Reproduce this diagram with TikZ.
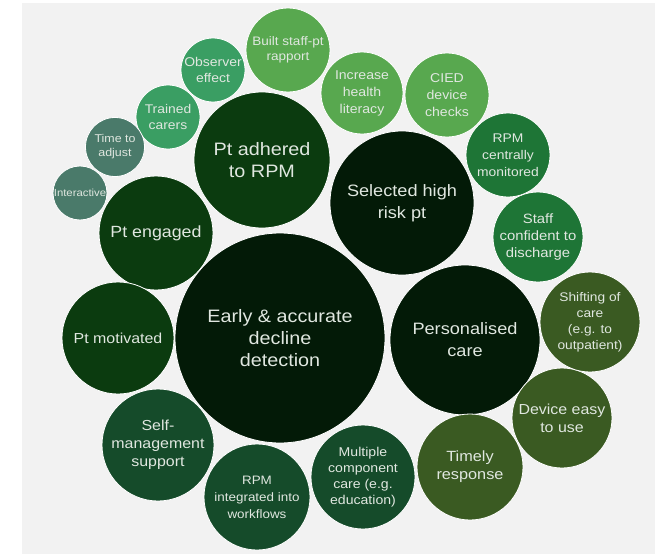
\documentclass[tikz,border=0pt]{standalone}
\usepackage{fontspec}
\setmainfont[FakeStretch=1.1]{Liberation Sans}
\usepackage{xcolor}
\usepackage{tikz}

\definecolor{panelgray}{HTML}{F2F2F2}
\definecolor{labelgray}{HTML}{E0E7E0}
\definecolor{blackgreen}{HTML}{031A07}
\definecolor{darkgreen}{HTML}{0B3B0F}
\definecolor{deepgreen}{HTML}{154B2A}
\definecolor{olivegreen}{HTML}{3A5A22}
\definecolor{midgreen}{HTML}{1E7536}
\definecolor{lightgreen}{HTML}{58A84F}
\definecolor{tealgreen}{HTML}{3A9E63}
\definecolor{grayteal}{HTML}{4A7A6A}

\newcommand{\fs}[2]{\fontsize{#1}{#2}\selectfont}

\begin{document}
\begin{tikzpicture}[
    x=1pt, y=-1pt,
    bubble/.style={
        draw=white,
        line width=0.8pt,
        circle,
        align=center,
        inner sep=0pt,
        text=labelgray
    },
    core/.style={bubble, fill=blackgreen},
    patient/.style={bubble, fill=darkgreen},
    service/.style={bubble, fill=deepgreen},
    delivery/.style={bubble, fill=olivegreen},
    staff/.style={bubble, fill=midgreen},
    outcome/.style={bubble, fill=lightgreen},
    carer/.style={bubble, fill=tealgreen},
    adjust/.style={bubble, fill=grayteal}
]

% Background panel
\useasboundingbox[fill=white] (0,0) rectangle (659,554);
\fill[panelgray] (22,3) rectangle (655,554);

% Central bubbles
\node[core, minimum size=210pt, font=\fs{18}{22}] (early) at (280,338) {Early \& accurate\\decline\\detection};
\node[core, minimum size=144pt, font=\fs{16.5}{22}] (highrisk) at (402,203) {Selected high\\risk pt};
\node[core, minimum size=150pt, font=\fs{16.5}{22}] (personal) at (465,340) {Personalised\\care};

% Patient bubbles
\node[patient, minimum size=136pt, font=\fs{18}{22}] (adhered) at (262,160) {Pt adhered\\to RPM};
\node[patient, minimum size=114pt, font=\fs{16.2}{20}] (engaged) at (156,233) {Pt engaged};
\node[patient, minimum size=112pt, font=\fs{14.5}{18}] (motivated) at (118,338) {Pt motivated};

% Service bubbles
\node[service, minimum size=112pt, font=\fs{14.5}{18}] (selfmgmt) at (158,445) {Self-\\management\\support};
\node[service, minimum size=106pt, font=\fs{12.2}{17}] (workflow) at (257,497) {RPM\\integrated into\\workflows};
\node[service, minimum size=104pt, font=\fs{12.8}{16}] (multiple) at (363,477) {Multiple\\component\\care (e.g.\\education)};

% Delivery bubbles
\node[delivery, minimum size=106pt, font=\fs{14.8}{18}] (timely) at (470,467) {Timely\\response};
\node[delivery, minimum size=100pt, font=\fs{14.5}{18}] (easy) at (562,418) {Device easy\\to use};
\node[delivery, minimum size=100pt, font=\fs{12.5}{16}] (shifting) at (590,322) {Shifting of\\care\\(e.g. to\\outpatient)};

% Staff bubbles
\node[staff, minimum size=90pt, font=\fs{13.5}{17}] (confident) at (538,237) {Staff\\confident to\\discharge};
\node[staff, minimum size=84pt, font=\fs{12.6}{17}] (central) at (508,155) {RPM\\centrally\\monitored};

% Outcome bubbles
\node[outcome, minimum size=84pt, font=\fs{12.8}{17}] (cied) at (447,95) {CIED\\device\\checks};
\node[outcome, minimum size=82pt, font=\fs{12.8}{17}] (literacy) at (362,93) {Increase\\health\\literacy};
\node[outcome, minimum size=84pt, font=\fs{12.3}{15}] (rapport) at (288,50) {Built staff-pt\\rapport};

% Carer bubbles
\node[carer, minimum size=64pt, font=\fs{12.7}{16}] (observer) at (213,70) {Observer\\effect};
\node[carer, minimum size=64pt, font=\fs{12.6}{16}] (trained) at (168,117) {Trained\\carers};

% Small bubbles
\node[adjust, minimum size=59pt, font=\fs{11.3}{14}] (timeadj) at (115,147) {Time to\\adjust};
\node[adjust, minimum size=54pt, font=\fs{10.3}{12}] (interactive) at (80,193) {Interactive};

\end{tikzpicture}
\end{document}
